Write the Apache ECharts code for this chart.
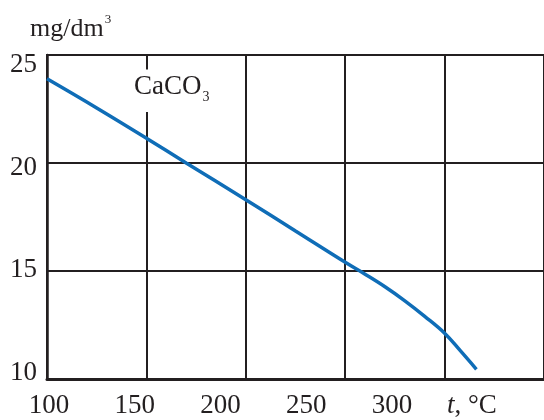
<!DOCTYPE html>
<html>
<head>
<meta charset="utf-8">
<script src="https://cdn.jsdelivr.net/npm/echarts@6/dist/echarts.min.js"></script>
<style>html,body{margin:0;padding:0;background:#fff}#c{width:544px;height:420px}</style>
</head>
<body>
<div id="c"></div>
<script>
// Data
var temps = [100, 125, 150, 170, 200, 225, 250, 260, 270, 280, 290, 300, 308, 316];
var conc  = [23.9, 22.55, 21.15, 20.0, 18.3, 16.85, 15.4, 14.85, 14.27, 13.62, 12.9, 12.12, 11.3, 10.45];
var xTicks = [100, 150, 200, 250, 300];
var yTicks = [10, 15, 20, 25];
var seriesName = 'CaCO3';

var FONT = "'Liberation Serif', 'Times New Roman', serif";
var INK = '#231f20';

var chart = echarts.init(document.getElementById('c'), null, {renderer: 'canvas'});
chart.setOption({
  animation: false,
  backgroundColor: '#fff',
  title: [
    {
      text: '{a|mg/dm}{s|3}',
      left: 25, top: 8,
      textStyle: {fontWeight: 'normal', rich: {
        a: {fontFamily: FONT, fontSize: 26, fontWeight: 'normal', color: INK, lineHeight: 32},
        s: {fontFamily: FONT, fontSize: 13, fontWeight: 'normal', color: INK, verticalAlign: 'top', lineHeight: 32, padding: [0, 0, 0, 1]}
      }}
    },
    {
      text: '{a|CaCO}{s|3}',
      left: 130, top: 66,
      backgroundColor: '#fff',
      padding: [4, 5, 8, 4],
      textStyle: {fontWeight: 'normal', rich: {
        a: {fontFamily: FONT, fontSize: 27, fontWeight: 'normal', color: INK, lineHeight: 34},
        s: {fontFamily: FONT, fontSize: 14, fontWeight: 'normal', color: INK, verticalAlign: 'bottom', lineHeight: 30, padding: [0, 0, 0, 1]}
      }}
    }
  ],
  grid: [
    {left: 47, width: 503, top: 55, bottom: 41, show: true, borderColor: INK, borderWidth: 2, backgroundColor: 'transparent'},
    {left: 49, width: 343, top: 65, bottom: 47, show: false}
  ],
  xAxis: [
    {
      type: 'value', gridIndex: 0, min: 100, max: 350, interval: 50,
      axisLine: {show: true, lineStyle: {color: INK, width: 3}},
      axisTick: {show: false}, axisLabel: {show: false},
      splitLine: {show: true, lineStyle: {color: INK, width: 2}}
    },
    {
      type: 'value', gridIndex: 1, min: xTicks[0], max: xTicks[xTicks.length - 1], interval: 50,
      axisLine: {show: false}, axisTick: {show: false}, splitLine: {show: false},
      axisLabel: {show: true, margin: 19, fontFamily: FONT, fontSize: 27, color: INK,
        customValues: xTicks},
      name: '{i|t}{n|, °C}',
      nameLocation: 'end', nameGap: 55,
      nameTextStyle: {verticalAlign: 'top', align: 'left', padding: [19, 0, 0, 0],
        rich: {
          i: {fontFamily: FONT, fontSize: 27, fontStyle: 'italic', color: INK},
          n: {fontFamily: FONT, fontSize: 27, color: INK}
        }}
    }
  ],
  yAxis: [
    {
      type: 'value', gridIndex: 0, min: 10, max: 25, interval: 5,
      axisLine: {show: true, lineStyle: {color: INK, width: 2.5}},
      axisTick: {show: false}, axisLabel: {show: false},
      splitLine: {show: true, lineStyle: {color: INK, width: 2}}
    },
    {
      type: 'value', gridIndex: 1, min: 10, max: 25, interval: 5,
      axisLine: {show: false}, axisTick: {show: false}, splitLine: {show: false},
      axisLabel: {show: true, margin: 12, fontFamily: FONT, fontSize: 27, color: INK,
        customValues: yTicks}
    }
  ],
  series: [{
    name: seriesName,
    type: 'line',
    xAxisIndex: 0, yAxisIndex: 0,
    data: temps.map(function (t, i) { return [t, conc[i]]; }),
    smooth: 0.4,
    symbol: 'none',
    lineStyle: {color: '#0f6db7', width: 3.5},
    z: 3
  }]
});
</script>
</body>
</html>
